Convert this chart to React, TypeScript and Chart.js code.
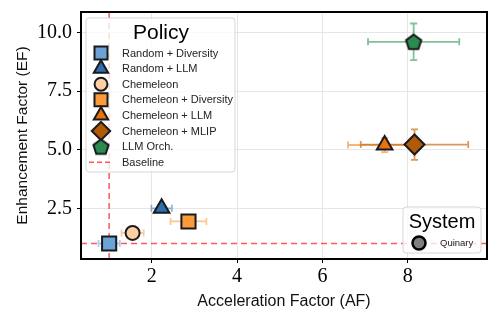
import React, { useEffect, useRef } from "react";
import { Chart, registerables } from "chart.js";
import { drawPoint } from "chart.js/helpers";

Chart.register(...registerables);

// ---- data ----
const policies = [
  "Random + Diversity",
  "Random + LLM",
  "Chemeleon",
  "Chemeleon + Diversity",
  "Chemeleon + LLM",
  "Chemeleon + MLIP",
  "LLM Orch.",
];
const afValues = [1.0, 2.23, 1.55, 2.86, 7.46, 8.16, 8.14];
const efValues = [1.0, 2.5, 1.45, 1.94, 5.2, 5.22, 9.6];
const afErrors = [0.25, 0.24, 0.26, 0.42, 0.86, 1.26, 1.07];
const efErrors = [0.05, 0.05, 0.05, 0.05, 0.3, 0.65, 0.78];
const colors = ["#6ba3d6", "#2f6eb0", "#fdd0a2", "#fd9b3c", "#e8720c", "#b05a08", "#2a8a52"];
const errColors = [
  "rgba(107,163,214,0.55)",
  "rgba(47,110,176,0.5)",
  "rgba(253,190,140,0.8)",
  "rgba(253,175,100,0.7)",
  "rgba(240,140,50,0.65)",
  "rgba(200,110,30,0.7)",
  "rgba(60,160,100,0.65)",
];
const markers = ["rect", "triangle", "circle", "rect", "triangle", "rectRot", "pentagon"];
const markerRadius = [10, 9, 7, 10, 9, 10, 8];

const xTicks = [2, 4, 6, 8];
const yTicks = [2.5, 5.0, 7.5, 10.0];
const baselineAF = 1.0;
const baselineEF = 1.0;
const systemLabel = "Quinary";
const X_MIN = 0.34, X_MAX = 9.86, Y_MIN = 0.34, Y_MAX = 10.87;

const EDGE = "#1a1a1a";
const BASE_COLOR = "rgba(255,45,45,0.8)";
const SANS = "'Liberation Sans', Arial, sans-serif";
const SERIF = "'Liberation Serif', 'Times New Roman', serif";

function makePentagon(color: string, r: number) {
  const c = document.createElement("canvas");
  const size = Math.ceil(r * 2 + 6);
  c.width = size;
  c.height = size;
  const ctx = c.getContext("2d")!;
  const cx = size / 2, cy = size / 2 + 0.8;
  ctx.beginPath();
  for (let i = 0; i < 5; i++) {
    const a = -Math.PI / 2 + (i * 2 * Math.PI) / 5;
    const px = cx + Math.cos(a) * r, py = cy + Math.sin(a) * r;
    if (i === 0) ctx.moveTo(px, py);
    else ctx.lineTo(px, py);
  }
  ctx.closePath();
  ctx.fillStyle = color;
  ctx.fill();
  ctx.lineWidth = 2;
  ctx.strokeStyle = EDGE;
  ctx.stroke();
  return c;
}

const errorBarPlugin = {
  id: "errorBars",
  beforeDatasetsDraw(chart: any) {
    const { ctx, scales } = chart;
    const xs = scales.x, ys = scales.y;
    ctx.save();
    ctx.lineWidth = 1.8;
    const cap = 3.5;
    for (let i = 0; i < policies.length; i++) {
      const px = xs.getPixelForValue(afValues[i]);
      const py = ys.getPixelForValue(efValues[i]);
      const x0 = xs.getPixelForValue(afValues[i] - afErrors[i]);
      const x1 = xs.getPixelForValue(afValues[i] + afErrors[i]);
      const y0 = ys.getPixelForValue(efValues[i] - efErrors[i]);
      const y1 = ys.getPixelForValue(efValues[i] + efErrors[i]);
      ctx.strokeStyle = errColors[i];
      ctx.beginPath();
      ctx.moveTo(x0, py); ctx.lineTo(x1, py);
      ctx.moveTo(x0, py - cap); ctx.lineTo(x0, py + cap);
      ctx.moveTo(x1, py - cap); ctx.lineTo(x1, py + cap);
      ctx.moveTo(px, y0); ctx.lineTo(px, y1);
      ctx.moveTo(px - cap, y0); ctx.lineTo(px + cap, y0);
      ctx.moveTo(px - cap, y1); ctx.lineTo(px + cap, y1);
      ctx.stroke();
    }
    ctx.restore();
  },
};

function roundRect(ctx: CanvasRenderingContext2D, x: number, y: number, w: number, h: number, r: number) {
  ctx.beginPath();
  ctx.moveTo(x + r, y);
  ctx.lineTo(x + w - r, y);
  ctx.arcTo(x + w, y, x + w, y + r, r);
  ctx.lineTo(x + w, y + h - r);
  ctx.arcTo(x + w, y + h, x + w - r, y + h, r);
  ctx.lineTo(x + r, y + h);
  ctx.arcTo(x, y + h, x, y + h - r, r);
  ctx.lineTo(x, y + r);
  ctx.arcTo(x, y, x + r, y, r);
  ctx.closePath();
}

const legendPlugin = {
  id: "customLegends",
  afterDraw(chart: any) {
    const { ctx, chartArea } = chart;
    ctx.save();
    // frame
    ctx.strokeStyle = "#000";
    ctx.lineWidth = 2;
    ctx.strokeRect(chartArea.left, chartArea.top, chartArea.right - chartArea.left, chartArea.bottom - chartArea.top);

    // Policy legend
    const lx = chartArea.left + 5, ly = chartArea.top + 6, lw = 149, lh = 154;
    roundRect(ctx, lx, ly, lw, lh, 3);
    ctx.fillStyle = "rgba(255,255,255,0.8)";
    ctx.fill();
    ctx.strokeStyle = "#d6d6d6";
    ctx.lineWidth = 1;
    ctx.stroke();
    ctx.fillStyle = "#000";
    ctx.font = `21px ${SANS}`;
    ctx.textAlign = "center";
    ctx.textBaseline = "middle";
    ctx.fillText("Policy", lx + 75, ly + 15);
    ctx.font = `11px ${SANS}`;
    ctx.textAlign = "left";
    for (let i = 0; i < policies.length; i++) {
      const ry = ly + 35 + i * 15.6;
      const ps = chart.data.datasets[0].pointStyle[i];
      ctx.fillStyle = colors[i];
      ctx.strokeStyle = EDGE;
      ctx.lineWidth = 2;
      drawPoint(ctx, { pointStyle: ps, rotation: 0, radius: markerRadius[i] * 0.92, borderWidth: 2 }, lx + 15, ry);
      ctx.fillStyle = "#222";
      ctx.fillText(policies[i], lx + 36, ry + 0.5);
    }
    const by = ly + 35 + 7 * 15.6;
    ctx.strokeStyle = BASE_COLOR;
    ctx.lineWidth = 1.5;
    ctx.setLineDash([5, 3]);
    ctx.beginPath();
    ctx.moveTo(lx + 3, by);
    ctx.lineTo(lx + 27, by);
    ctx.stroke();
    ctx.setLineDash([]);
    ctx.fillStyle = "#222";
    ctx.fillText("Baseline", lx + 36, by + 0.5);

    // System legend
    const sx = chartArea.right - 84, sy = chartArea.bottom - 52, sw = 78, sh = 46;
    roundRect(ctx, sx, sy, sw, sh, 3);
    ctx.fillStyle = "rgba(255,255,255,0.8)";
    ctx.fill();
    ctx.strokeStyle = "#d6d6d6";
    ctx.lineWidth = 1;
    ctx.stroke();
    ctx.fillStyle = "#000";
    ctx.font = `20px ${SANS}`;
    ctx.textAlign = "center";
    ctx.fillText("System", sx + 39, sy + 15);
    ctx.beginPath();
    ctx.arc(sx + 16, sy + 36, 6.5, 0, Math.PI * 2);
    ctx.fillStyle = "#808080";
    ctx.fill();
    ctx.strokeStyle = "#000";
    ctx.lineWidth = 2.5;
    ctx.stroke();
    ctx.fillStyle = "#222";
    ctx.font = `9.5px ${SANS}`;
    ctx.textAlign = "left";
    ctx.fillText(systemLabel, sx + 37, sy + 36.5);
    ctx.restore();
  },
};

export default function App() {
  const ref = useRef<HTMLCanvasElement>(null);
  useEffect(() => {
    document.body.style.margin = "0";
    const pointStyles = markers.map((m, i) => (m === "pentagon" ? makePentagon(colors[i], markerRadius[i]) : m));
    const chart = new Chart(ref.current!, {
      type: "scatter",
      data: {
        datasets: [
          {
            label: "Policies",
            data: afValues.map((x, i) => ({ x, y: efValues[i] })),
            pointStyle: pointStyles as any,
            pointRadius: markerRadius,
            backgroundColor: colors,
            borderColor: EDGE,
            borderWidth: 2,
            order: 0,
          } as any,
          {
            type: "line",
            label: "Baseline AF",
            data: [{ x: baselineAF, y: Y_MIN }, { x: baselineAF, y: Y_MAX }],
            borderColor: BASE_COLOR,
            borderWidth: 1.5,
            borderDash: [6, 4],
            pointRadius: 0,
            order: 5,
          } as any,
          {
            type: "line",
            label: "Baseline EF",
            data: [{ x: X_MIN, y: baselineEF }, { x: X_MAX, y: baselineEF }],
            borderColor: BASE_COLOR,
            borderWidth: 1.5,
            borderDash: [6, 4],
            pointRadius: 0,
            order: 5,
          } as any,
        ],
      },
      options: {
        animation: false,
        responsive: false,
        layout: { padding: { top: 9, right: 9, left: 0, bottom: 0 } },
        plugins: { legend: { display: false }, tooltip: { enabled: false } },
        scales: {
          x: {
            type: "linear",
            min: X_MIN,
            max: X_MAX,
            afterBuildTicks: (s: any) => { s.ticks = xTicks.map((v) => ({ value: v })); },
            afterFit: (s: any) => { s.height = 62; s.paddingLeft = 0; s.paddingRight = 0; },
            ticks: { color: "#000", font: { family: SERIF, size: 20 }, padding: 2, callback: (v: any) => String(v) },
            grid: { color: "#e6e6e6", tickColor: "#000", tickLength: 4 },
            border: { color: "#000", width: 2 },
            title: { display: true, text: "Acceleration Factor (AF)", color: "#111", font: { family: SANS, size: 16 }, padding: { top: 0, bottom: 10 } },
          },
          y: {
            type: "linear",
            min: Y_MIN,
            max: Y_MAX,
            afterBuildTicks: (s: any) => { s.ticks = yTicks.map((v) => ({ value: v })); },
            afterFit: (s: any) => { s.width = 81; s.paddingTop = 0; s.paddingBottom = 0; },
            ticks: { color: "#000", font: { family: SERIF, size: 20 }, padding: 5, callback: (v: any) => Number(v).toFixed(1) },
            grid: { color: "#e6e6e6", tickColor: "#000", tickLength: 4 },
            border: { color: "#000", width: 2 },
            title: { display: true, text: "Enhancement Factor (EF)", color: "#111", font: { family: SANS, size: 15.5 }, padding: { top: 13, bottom: 0 } },
          },
        },
      } as any,
      plugins: [errorBarPlugin, legendPlugin],
    });
    return () => chart.destroy();
  }, []);
  return (
    <div style={{ position: "absolute", left: 0, top: 0, width: 499, height: 321 }}>
      <canvas ref={ref} width={499} height={321} />
    </div>
  );
}
